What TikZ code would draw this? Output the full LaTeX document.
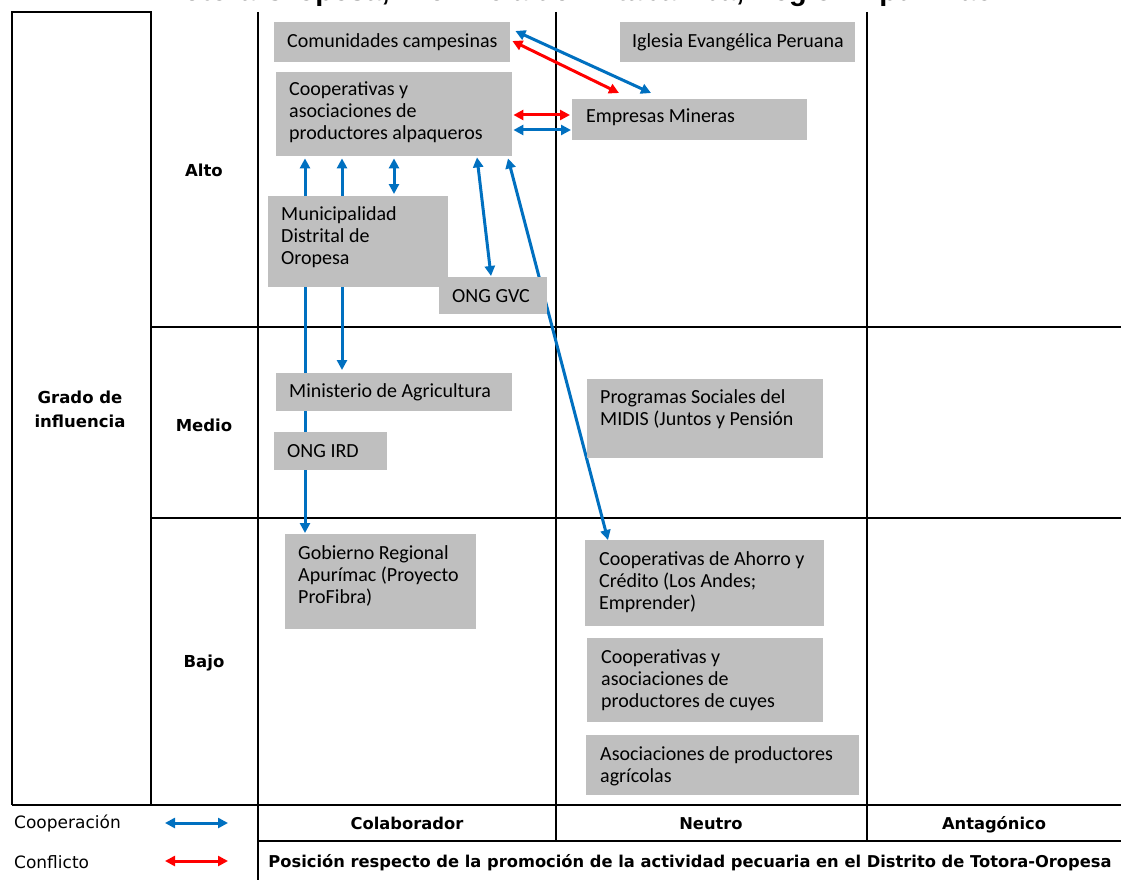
\documentclass[tikz,border=0pt]{standalone}
\usepackage{fontspec}
\setmainfont{Carlito}
\newfontfamily\labf{DejaVu Sans}
\newfontfamily\titf{Liberation Sans}
\usetikzlibrary{arrows.meta}
\pgfdeclarelayer{back}
\pgfdeclarelayer{mid}
\pgfsetlayers{back,mid,main}
\definecolor{boxgray}{RGB}{191,191,191}
\definecolor{coopblue}{RGB}{0,112,192}
\definecolor{conflred}{RGB}{255,0,0}
\begin{document}
\begin{tikzpicture}[x=1pt,y=-1pt,
  actorbox/.style 2 args={draw=none, fill=boxgray, anchor=north west, minimum width=#1pt, minimum height=#2pt, inner sep=0pt},
  actortext/.style={anchor=west, align=left, inner sep=0pt, font=\fontsize{20}{22}\selectfont},
  gridline/.style={draw=black, line width=2pt},
  rowlab/.style={font=\labf\bfseries\fontsize{16.5}{24}\selectfont, align=center, inner sep=0pt},
  collab/.style={font=\labf\bfseries\fontsize{16.3}{18}\selectfont, inner sep=0pt, anchor=base},
  leglab/.style={font=\labf\fontsize{17}{18}\selectfont, anchor=west, inner sep=0pt},
  tipa/.style={arrows={Triangle[length=10pt,width=10pt]-Triangle[length=10pt,width=10pt]}},
  coop/.style={tipa, draw=coopblue, line width=3pt},
  confl/.style={tipa, draw=conflred, line width=3pt}
]
\useasboundingbox (0,0) rectangle (1121,880);
\begin{pgfonlayer}{back}
  \fill[white] (0,0) rectangle (1121,880);
  % grid
  \draw[gridline] (12,805) -- (12,12) -- (151,12) -- (151,805);
  \draw[gridline] (258,12) -- (258,880);
  \draw[gridline] (556,12) -- (556,841);
  \draw[gridline] (867,12) -- (867,841);
  \draw[gridline] (151,327) -- (1121,327);
  \draw[gridline] (151,518) -- (1121,518);
  \draw[gridline] (12,805) -- (1121,805);
  \draw[gridline] (258,841) -- (1121,841);
\end{pgfonlayer}

% title (cut off at the top of the page, as in the reference)
\node[font=\titf\bfseries\fontsize{29}{32}\selectfont, anchor=base, inner sep=0pt] (title) at (580,1) {Totora Oropesa, Provincia de Antabamba, Región Apurímac};

% row and column labels
\node[rowlab] (grado) at (80,409) {Grado de\\influencia};
\node[rowlab] (alto) at (204,170) {Alto};
\node[rowlab] (medio) at (204,425) {Medio};
\node[rowlab] (bajo) at (204,663) {Bajo};
\node[collab] (colab) at (407,829) {Colaborador};
\node[collab] (neutro) at (711,829) {Neutro};
\node[collab] (antag) at (994,829) {Antagónico};
\node[collab] (posic) at (690,867) {Posición respecto de la promoción de la actividad pecuaria en el Distrito de Totora-Oropesa};

% legend
\node[leglab] (legcoop) at (14,823) {Cooperación};
\node[leglab] (legconf) at (14,862) {Conflicto};
\coordinate (lc1) at (165,823);
\coordinate (lc2) at (228,823);
\coordinate (lf1) at (165,861);
\coordinate (lf2) at (228,861);

% actor boxes
\node[actorbox={236}{40}] (com) at (274,22) {};
\node[actorbox={235}{40}] (igl) at (620,22) {};
\node[actorbox={236}{84}] (coopalp) at (276,72) {};
\node[actorbox={235}{41}] (emp) at (572,99) {};
\node[actorbox={180}{91}] (muni) at (268,196) {};
\node[actorbox={108}{37}] (gvc) at (439,277) {};
\node[actorbox={236}{38}] (mina) at (276,373) {};
\node[actorbox={113}{38}] (ird) at (274,432) {};
\node[actorbox={236}{79}] (midis) at (587,379) {};
\node[actorbox={191}{95}] (gob) at (285,534) {};
\node[actorbox={239}{86}] (coopah) at (585,540) {};
\node[actorbox={236}{84}] (cuyes) at (587,638) {};
\node[actorbox={273}{60}] (agric) at (586,735) {};

% actor texts
\node[actortext] (comT) at ([shift={(13,0)}]com.west) {Comunidades campesinas};
\node[actortext] (iglT) at ([shift={(12,0)}]igl.west) {Iglesia Evangélica Peruana};
\node[actortext] (coopalpT) at ([shift={(13,-2)}]coopalp.west) {Cooperativas y\\asociaciones de\\productores alpaqueros};
\node[actortext] (empT) at ([shift={(14,-2)}]emp.west) {Empresas Mineras};
\node[actortext] (muniT) at ([shift={(13,-5)}]muni.west) {Municipalidad\\Distrital de\\Oropesa};
\node[actortext] (gvcT) at ([shift={(13,0)}]gvc.west) {ONG GVC};
\node[actortext] (minaT) at ([shift={(13,0)}]mina.west) {Ministerio de Agricultura};
\node[actortext] (irdT) at ([shift={(13,0)}]ird.west) {ONG IRD};
\node[actortext] (midisT) at ([shift={(13,-10)}]midis.west) {Programas Sociales del\\MIDIS (Juntos y Pensión};
\node[actortext] (gobT) at ([shift={(13,-6)}]gob.west) {Gobierno Regional\\Apurímac (Proyecto\\ProFibra)};
\node[actortext] (coopahT) at ([shift={(14,-1)}]coopah.west) {Cooperativas de Ahorro y\\Crédito (Los Andes;\\Emprender)};
\node[actortext] (cuyesT) at ([shift={(14,0)}]cuyes.west) {Cooperativas y\\asociaciones de\\productores de cuyes};
\node[actortext] (agricT) at ([shift={(14,1)}]agric.west) {Asociaciones de productores\\agrícolas};

% connectors (behind the boxes)
\begin{pgfonlayer}{mid}
  \draw[coop] ([shift={(5,9)}]com.north east) -- ([shift={(79,-6)}]emp.north west);
  \draw[confl] ([shift={(2,19)}]com.north east) -- ([shift={(47,-6)}]emp.north west);
  \draw[confl] ([shift={(1,43)}]coopalp.north east) -- ([shift={(-2,16)}]emp.north west);
  \draw[coop] ([shift={(1,58)}]coopalp.north east) -- ([shift={(-1,31)}]emp.north west);
  \draw[coop] ([shift={(29,2)}]coopalp.south west) -- ([shift={(20,-1)}]gob.north west);
  \draw[coop] ([shift={(66,2)}]coopalp.south west) -- ([shift={(66,-3)}]mina.north west);
  \draw[coop] ([shift={(118,2)}]coopalp.south west) -- ([shift={(126,-2)}]muni.north west);
  \draw[coop] ([shift={(201,1)}]coopalp.south west) -- ([shift={(52,-1)}]gvc.north west);
  \draw[coop] ([shift={(232,2)}]coopalp.south west) -- ([shift={(23,0)}]coopah.north west);
  \draw[coop] (lc1) -- (lc2);
  \draw[confl] (lf1) -- (lf2);
\end{pgfonlayer}
\end{tikzpicture}
\end{document}
